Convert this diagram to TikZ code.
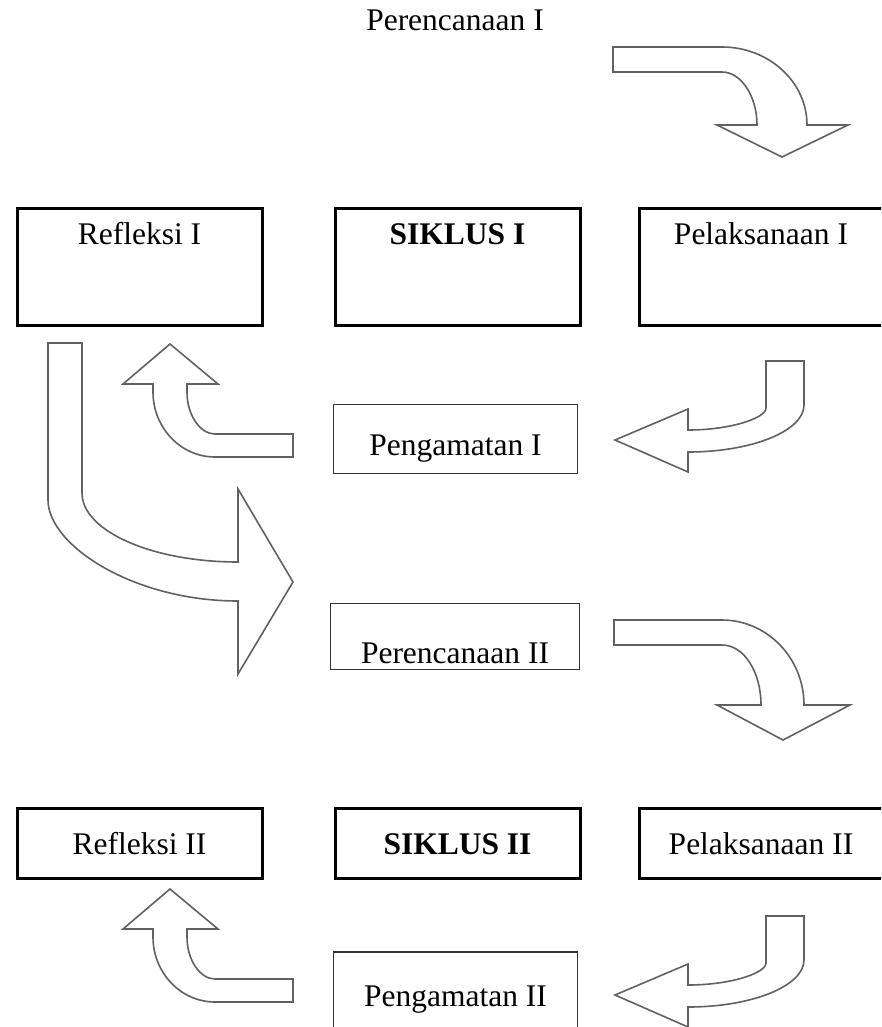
\documentclass[tikz,border=0pt]{standalone}
\usepackage{fontspec}
\setmainfont{Liberation Serif}
\begin{document}
\begin{tikzpicture}[x=1pt,y=-1pt,
  bigbox/.style={draw=black,line width=3pt,inner sep=0pt,minimum width=245pt},
  thinbox/.style={draw=black!80,line width=1.8pt,inner sep=0pt},
  lbl/.style={font=\fontsize{31.5}{36}\selectfont,inner sep=0pt,anchor=base},
  blockarrow/.style={draw=black!62,line width=1.6pt,fill=white,line join=miter}]
\useasboundingbox (0,0) rectangle (881,1027);
\clip (0,0) rectangle (881,1027);
\fill[white] (0,0) rectangle (881,1027);

% title
\node[lbl] (tper1) at (455,31) {Perencanaan I};

% cycle I boxes
\node[bigbox,minimum height=117pt] (refl1) at (139.5,266.5) {};
\node[bigbox,minimum height=117pt] (sik1) at (457.5,266.5) {};
\node[bigbox,minimum height=117pt] (pel1) at (762,266.5) {};
\node[lbl] (trefl1) at (139.5,244) {Refleksi I};
\node[lbl] (tsik1) at (457.5,244) {\bfseries SIKLUS I};
\node[lbl] (tpel1) at (761,244) {Pelaksanaan I};

\node[thinbox,minimum width=244pt,minimum height=69pt] (peng1) at (455.5,439) {};
\node[lbl] (tpeng1) at (455.5,455) {Pengamatan I};

\node[thinbox,minimum width=249pt,minimum height=66pt] (per2) at (455,636.5) {};
\node[lbl] (tper2) at (455,663) {Perencanaan II};

% cycle II boxes
\node[bigbox,minimum height=70pt] (refl2) at (139.5,843) {};
\node[bigbox,minimum height=70pt] (sik2) at (457.5,843) {};
\node[bigbox,minimum height=70pt] (pel2) at (762,843) {};
\node[lbl] (trefl2) at (139.5,854) {Refleksi II};
\node[lbl] (tsik2) at (457.5,854) {\bfseries SIKLUS II};
\node[lbl] (tpel2) at (761,854) {Pelaksanaan II};

\node[thinbox,minimum width=244pt,minimum height=78pt] (peng2) at (455.5,991) {};
\node[lbl] (tpeng2) at (455.5,1006) {Pengamatan II};

% arrow A: Perencanaan I -> Pelaksanaan I
\draw[blockarrow] (613,47) -- (722,47) .. controls (769,47) and (807,82) .. (807,125)
  -- (848,125) -- (782,157) -- (717,125) -- (757,125)
  .. controls (757,96) and (741,72) .. (722,72) -- (613,72) -- cycle;

% arrow E: Perencanaan II -> Pelaksanaan II
\draw[blockarrow] (614,620) -- (722,620) .. controls (767,620) and (804,658) .. (804,705)
  -- (850,705) -- (783,740) -- (717,705) -- (761,705)
  .. controls (761,672) and (744,645) .. (722,645) -- (614,645) -- cycle;

% arrow D: Pelaksanaan I -> Pengamatan I
\draw[blockarrow] (766,361) -- (804,361) -- (804,405)
  .. controls (804,431) and (752,452) .. (688,452) -- (688,472) -- (615,440) -- (688,409) -- (688,430)
  .. controls (731,430) and (766,418) .. (766,408) -- cycle;

% arrow G: Pelaksanaan II -> Pengamatan II
\begin{scope}[yshift=-555pt]
\draw[blockarrow] (766,361) -- (804,361) -- (804,405)
  .. controls (804,431) and (752,452) .. (688,452) -- (688,472) -- (615,440) -- (688,409) -- (688,430)
  .. controls (731,430) and (766,418) .. (766,408) -- cycle;
\end{scope}

% arrow B: Pengamatan I -> Refleksi I
\draw[blockarrow] (170,344) -- (218,384) -- (187,384) -- (187,392)
  .. controls (187,415) and (200,434) .. (215,434) -- (293,434) -- (293,457) -- (215,457)
  .. controls (181,457) and (153,428) .. (153,392) -- (153,384) -- (123,384) -- cycle;

% arrow F: Pengamatan II -> Refleksi II
\begin{scope}[yshift=-545pt]
\draw[blockarrow] (170,344) -- (218,384) -- (187,384) -- (187,392)
  .. controls (187,415) and (200,434) .. (215,434) -- (293,434) -- (293,457) -- (215,457)
  .. controls (181,457) and (153,428) .. (153,392) -- (153,384) -- (123,384) -- cycle;
\end{scope}

% arrow C: Refleksi I -> Perencanaan II
\draw[blockarrow] (48,343) -- (82,343) -- (82,493)
  .. controls (82,531) and (152,562) .. (238,562) -- (238,489) -- (293,582) -- (238,674) -- (238,601)
  .. controls (133,601) and (48,545) .. (48,500) -- cycle;
\end{tikzpicture}
\end{document}
